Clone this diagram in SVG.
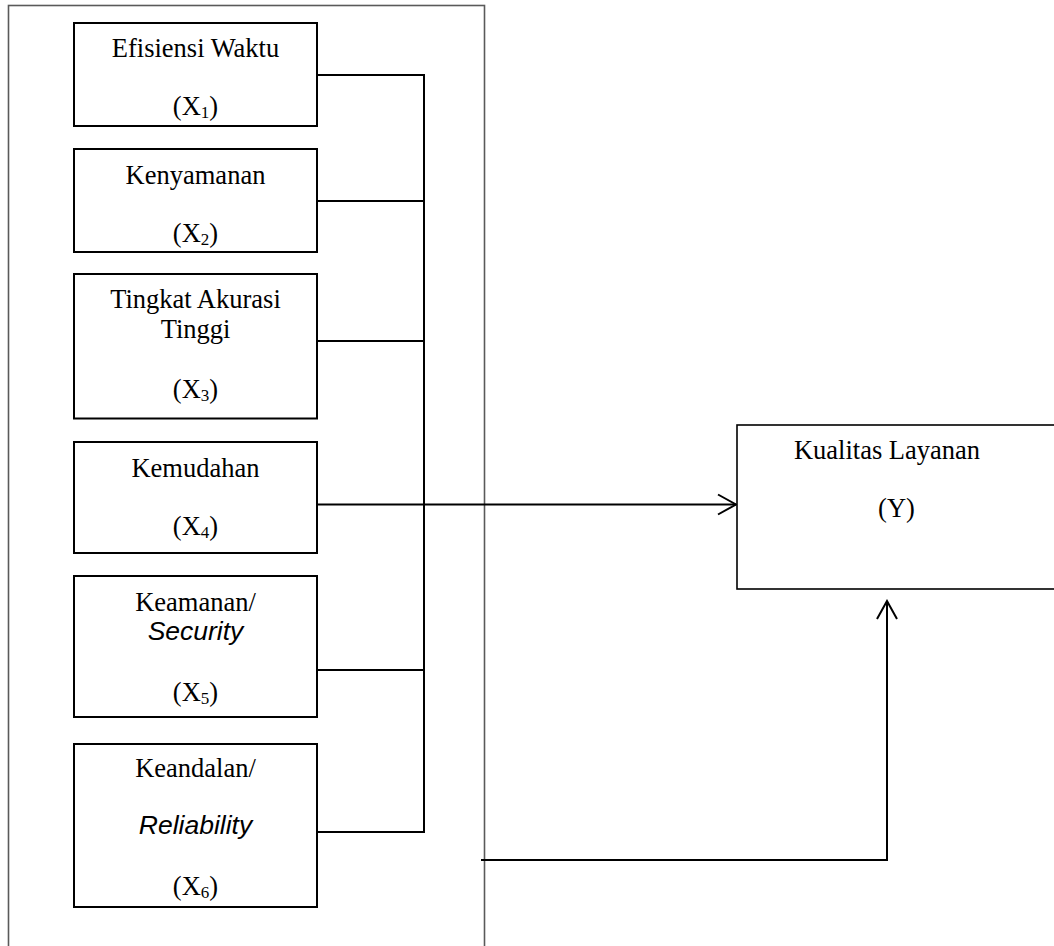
<svg xmlns="http://www.w3.org/2000/svg" width="1054" height="946" viewBox="0 0 1054 946">
<style>
.box{fill:#fff;stroke:#000;stroke-width:2}
.frame{fill:none;stroke:#5a5a5a;stroke-width:1.6}
.ybox{fill:#fff;stroke:#000;stroke-width:1.6}
.t{font-family:"Liberation Serif","Times New Roman",serif;font-size:26.5px;fill:#000;text-anchor:middle}
.s{font-family:"Liberation Sans",Arial,sans-serif;font-size:26.5px;font-style:italic;fill:#000;text-anchor:middle}
.sub{font-size:17px}
.c{fill:none;stroke:#000;stroke-width:2}
</style>
<defs>
<marker id="arr" markerUnits="userSpaceOnUse" markerWidth="22" markerHeight="24" viewBox="0 0 22 24" refX="20" refY="12" orient="auto">
<path d="M2,2 L20,12 L2,22" fill="none" stroke="#000" stroke-width="2"/>
</marker>
</defs>
<rect class="frame" x="8.5" y="5.5" width="476" height="960"/>
<g id="connectors">
<path class="c" d="M317,75 H424 V832 H317"/>
<path class="c" d="M317,201 H424"/>
<path class="c" d="M317,341 H424"/>
<path class="c" d="M317,670 H424"/>
<path class="c" d="M317,504.5 H736" marker-end="url(#arr)"/>
<path class="c" d="M481,860 H887 V601" marker-end="url(#arr)"/>
</g>
<g id="x1">
<rect class="box" x="74" y="23" width="243" height="103"/>
<text class="t" x="195.5" y="57.3">Efisiensi Waktu</text>
<text class="t" x="195.5" y="115">(X<tspan class="sub" dy="3">1</tspan><tspan dy="-3">)</tspan></text>
</g>
<g id="x2">
<rect class="box" x="74" y="149" width="243" height="103"/>
<text class="t" x="195.5" y="184">Kenyamanan</text>
<text class="t" x="195.5" y="242">(X<tspan class="sub" dy="3">2</tspan><tspan dy="-3">)</tspan></text>
</g>
<g id="x3">
<rect class="box" x="74" y="274" width="243" height="144.5"/>
<text class="t" x="195.5" y="307.7">Tingkat Akurasi</text>
<text class="t" x="195.5" y="338.3">Tinggi</text>
<text class="t" x="195.5" y="398.3">(X<tspan class="sub" dy="3">3</tspan><tspan dy="-3">)</tspan></text>
</g>
<g id="x4">
<rect class="box" x="74" y="442" width="243" height="111"/>
<text class="t" x="195.5" y="476.7">Kemudahan</text>
<text class="t" x="195.5" y="535">(X<tspan class="sub" dy="3">4</tspan><tspan dy="-3">)</tspan></text>
</g>
<g id="x5">
<rect class="box" x="74" y="576" width="243" height="141"/>
<text class="t" x="195.5" y="610.7">Keamanan/</text>
<text class="s" x="195.5" y="640">Security</text>
<text class="t" x="195.5" y="701">(X<tspan class="sub" dy="3">5</tspan><tspan dy="-3">)</tspan></text>
</g>
<g id="x6">
<rect class="box" x="74" y="744" width="243" height="163"/>
<text class="t" x="195.5" y="777.3">Keandalan/</text>
<text class="s" x="195.5" y="834">Reliability</text>
<text class="t" x="195.5" y="895">(X<tspan class="sub" dy="3">6</tspan><tspan dy="-3">)</tspan></text>
</g>
<g id="y">
<rect class="ybox" x="737" y="425" width="330" height="164"/>
<text class="t" x="887" y="459">Kualitas Layanan</text>
<text class="t" x="896.5" y="517">(Y)</text>
</g>
</svg>
